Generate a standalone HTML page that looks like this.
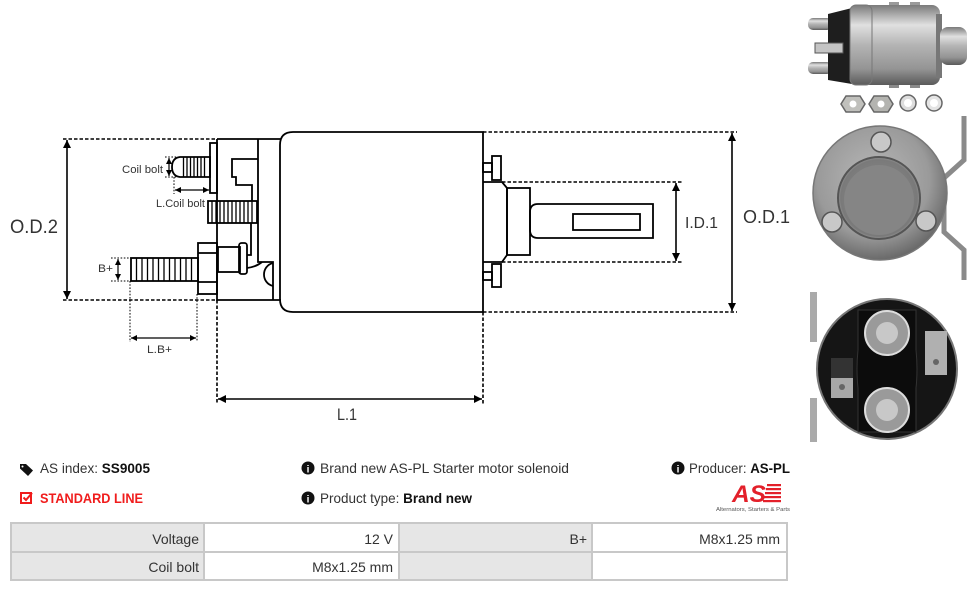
<!DOCTYPE html>
<html><head><meta charset="utf-8"><style>
html,body{margin:0;padding:0;background:#fff;width:976px;height:591px;overflow:hidden}
svg{display:block}
</style></head><body>
<svg width="976" height="591" viewBox="0 0 976 591" xmlns="http://www.w3.org/2000/svg">
<defs>
<marker id="ah" viewBox="0 0 10 10" refX="10" refY="5" markerWidth="9" markerHeight="8" markerUnits="userSpaceOnUse" orient="auto-start-reverse"><path d="M0,0 L10,5 L0,10 z" fill="#000"/></marker>
<marker id="as" viewBox="0 0 10 10" refX="10" refY="5" markerWidth="6" markerHeight="6" markerUnits="userSpaceOnUse" orient="auto-start-reverse"><path d="M0,0 L10,5 L0,10 z" fill="#000"/></marker>
<linearGradient id="met" x1="0" y1="0" x2="0" y2="1">
<stop offset="0" stop-color="#7a7a7a"/><stop offset="0.25" stop-color="#e0e0e0"/><stop offset="0.5" stop-color="#b4b4b4"/><stop offset="0.8" stop-color="#949494"/><stop offset="1" stop-color="#5a5a5a"/></linearGradient>
<radialGradient id="disc" cx="0.45" cy="0.4" r="0.6"><stop offset="0" stop-color="#b8b8b8"/><stop offset="0.7" stop-color="#9a9a9a"/><stop offset="1" stop-color="#6a6a6a"/></radialGradient>
<radialGradient id="cup" cx="0.5" cy="0.5" r="0.55"><stop offset="0" stop-color="#8a8a8a"/><stop offset="0.85" stop-color="#7a7a7a"/><stop offset="1" stop-color="#c0c0c0"/></radialGradient>
</defs>

<!-- ========== TECH DRAWING ========== -->
<g fill="none" stroke="#000" stroke-width="1.8">
<path d="M293,132 H483 V312 H293 Q280,312 280,299 V145 Q280,132 293,132 Z"/>
<path d="M217,139 H281 M217,139 V300 H281"/>
<path d="M258,139 V262 H273 V300"/>
<path d="M273,263 C261,266 261,283 273,286"/>
<path d="M247,268 Q256,267 262,262"/>
<path d="M258,159 H232 V177 H236 V185 H252 V201"/>
<path d="M251,223 V255 H247"/>
<path d="M180,157 H210 V177 H180 Q172,176 172,167 Q172,158 180,157 Z"/>
<rect x="210" y="143" width="7" height="50"/>
<rect x="208" y="201" width="49" height="22"/>
<rect x="131" y="258" width="67" height="23"/>
<rect x="198" y="243" width="19" height="51"/>
<path d="M198,253 H217 M198,282 H217"/>
<rect x="218" y="247" width="22" height="25"/>
<rect x="239" y="243" width="8" height="31" rx="2.5"/>
<rect x="483" y="163" width="9" height="9"/>
<rect x="492" y="156" width="9" height="24"/>
<rect x="483" y="272" width="9" height="8"/>
<rect x="492" y="264" width="9" height="23"/>
<path d="M483,182 H502 L507,188 V255 L502,262 H483"/>
<rect x="507" y="188" width="23" height="67"/>
<path d="M653,204 H538 Q530,204 530,212 V230 Q530,238 538,238 H653 Z"/>
<rect x="573" y="214" width="67" height="16"/>
</g>
<g stroke="#000" stroke-width="1.3" fill="none">
<path d="M183.5,157V177 M187,157V177 M190.5,157V177 M194,157V177 M197.5,157V177 M201,157V177 M204.5,157V177"/>
<path d="M212,201V223 M216,201V223 M220,201V223 M224,201V223 M228,201V223 M232,201V223 M236,201V223 M240,201V223 M244,201V223 M248,201V223 M252,201V223"/>
<path d="M136.5,258V281 M142,258V281 M147.5,258V281 M153,258V281 M158.5,258V281 M164,258V281 M169.5,258V281 M175,258V281 M180.5,258V281 M186,258V281 M191.5,258V281"/>
</g>
<g stroke="#000" stroke-width="1.6" stroke-dasharray="3.5,2" fill="none">
<path d="M63,139 H217 M63,300 H217"/>
<path d="M483,132 H737 M483,312 H737"/>
<path d="M502,182 H682 M502,262 H682"/>
<path d="M217,300 V404 M483,312 V404"/>
</g>
<g stroke="#000" stroke-width="1" stroke-dasharray="1.6,1.6" fill="none">
<path d="M165,157 H180 M165,177 H180"/>
<path d="M174,177 V194"/>
<path d="M111,258 H131 M111,281 H131"/>
<path d="M130,281 V342 M197,294 V342"/>
</g>
<g stroke="#000" stroke-width="1.6">
<line x1="67" y1="140" x2="67" y2="299" marker-start="url(#ah)" marker-end="url(#ah)"/>
<line x1="732" y1="133" x2="732" y2="311" marker-start="url(#ah)" marker-end="url(#ah)"/>
<line x1="676" y1="183" x2="676" y2="261" marker-start="url(#ah)" marker-end="url(#ah)"/>
<line x1="218" y1="399" x2="482" y2="399" marker-start="url(#ah)" marker-end="url(#ah)"/>
</g>
<g stroke="#000" stroke-width="1.2">
<line x1="169" y1="158" x2="169" y2="176" marker-start="url(#as)" marker-end="url(#as)"/>
<line x1="175" y1="190" x2="209" y2="190" marker-start="url(#as)" marker-end="url(#as)"/>
<line x1="118" y1="259" x2="118" y2="280" marker-start="url(#as)" marker-end="url(#as)"/>
<line x1="131" y1="338" x2="196" y2="338" marker-start="url(#as)" marker-end="url(#as)"/>
</g>
<g font-family="'Liberation Sans', sans-serif" fill="#333">
<text x="10" y="233" font-size="19" textLength="48" lengthAdjust="spacingAndGlyphs">O.D.2</text>
<text x="743" y="223" font-size="18" textLength="47" lengthAdjust="spacingAndGlyphs">O.D.1</text>
<text x="685" y="228" font-size="16" textLength="33" lengthAdjust="spacingAndGlyphs">I.D.1</text>
<text x="337" y="420" font-size="17" textLength="20" lengthAdjust="spacingAndGlyphs">L.1</text>
<text x="122" y="173" font-size="11" textLength="41" lengthAdjust="spacingAndGlyphs">Coil bolt</text>
<text x="156" y="207" font-size="11" textLength="49" lengthAdjust="spacingAndGlyphs">L.Coil bolt</text>
<text x="98" y="272" font-size="11" textLength="15" lengthAdjust="spacingAndGlyphs">B+</text>
<text x="147" y="353" font-size="11" textLength="25" lengthAdjust="spacingAndGlyphs">L.B+</text>
</g>

<!-- ========== PHOTOS ========== -->
<g>
<rect x="889" y="2" width="10" height="10" fill="#9a9a9a"/>
<rect x="910" y="2" width="10" height="10" fill="#9a9a9a"/>
<rect x="889" y="80" width="10" height="8" fill="#8a8a8a"/>
<rect x="910" y="80" width="10" height="8" fill="#8a8a8a"/>
<rect x="808" y="18" width="24" height="12" rx="5" fill="url(#met)"/>
<rect x="808" y="62" width="24" height="12" rx="5" fill="url(#met)"/>
<path d="M828,14 L852,8 V84 L828,80 Z" fill="#1e1e1e"/>
<rect x="815" y="43" width="28" height="10" fill="#c4c4c4" stroke="#555" stroke-width="1"/>
<rect x="850" y="5" width="90" height="80" rx="8" fill="url(#met)"/>
<rect x="850" y="5" width="22" height="80" rx="6" fill="url(#met)" stroke="#777" stroke-width="1"/>
<rect x="936" y="14" width="6" height="64" fill="#777"/>
<rect x="940" y="27" width="27" height="38" rx="8" fill="url(#met)"/>
<g stroke="#666" stroke-width="1.5">
<polygon points="846,96 860,96 865,104 860,112 846,112 841,104" fill="#c0c0bc"/>
<polygon points="874,96 888,96 893,104 888,112 874,112 869,104" fill="#b4b4b0"/>
<circle cx="908" cy="103" r="8" fill="#ddd"/>
<circle cx="934" cy="103" r="8" fill="#e4e4e4"/>
</g>
<circle cx="853" cy="104" r="3.5" fill="#fff"/>
<circle cx="881" cy="104" r="3.5" fill="#fff"/>
<circle cx="908" cy="103" r="4" fill="#fff"/>
<circle cx="934" cy="103" r="4" fill="#fff"/>
</g>
<g>
<polyline points="964,116 964,160 944,178 944,232 964,250 964,280" fill="none" stroke="#8a8a8a" stroke-width="5"/>
<circle cx="880" cy="193" r="67" fill="url(#disc)" stroke="#777" stroke-width="1.5"/>
<circle cx="879" cy="198" r="41" fill="url(#cup)" stroke="#555" stroke-width="2"/>
<circle cx="879" cy="200" r="35" fill="#858585"/>
<circle cx="881" cy="142" r="10" fill="#c8c8c8" stroke="#555" stroke-width="1.5"/>
<circle cx="832" cy="222" r="10" fill="#c8c8c8" stroke="#555" stroke-width="1.5"/>
<circle cx="926" cy="221" r="10" fill="#c8c8c8" stroke="#555" stroke-width="1.5"/>
</g>
<g>
<rect x="810" y="292" width="7" height="50" fill="#aaa"/>
<rect x="810" y="398" width="7" height="44" fill="#aaa"/>
<circle cx="887" cy="369" r="70" fill="#151515" stroke="#777" stroke-width="2"/>
<path d="M858,310 H916 V350 Q918,369 916,388 V432 H858 V388 Q856,369 858,350 Z" fill="#0c0c0c" stroke="#333" stroke-width="1"/>
<circle cx="887" cy="333" r="22" fill="#9a9a9a" stroke="#ddd" stroke-width="2"/>
<circle cx="887" cy="333" r="11" fill="#c8c8c8"/>
<circle cx="887" cy="410" r="22" fill="#9a9a9a" stroke="#ddd" stroke-width="2"/>
<circle cx="887" cy="410" r="11" fill="#c8c8c8"/>
<rect x="831" y="358" width="22" height="40" fill="#a8a8a8"/>
<rect x="831" y="358" width="22" height="20" fill="#333"/>
<circle cx="842" cy="387" r="3" fill="#666"/>
<rect x="925" y="331" width="22" height="44" fill="#b0b0b0"/>
<circle cx="936" cy="362" r="3" fill="#666"/>
</g>

<!-- ========== INFO ========== -->
<g font-family="'Liberation Sans', sans-serif" font-size="14" fill="#333">
<path d="M20,464 H26 L33,470.5 L28,476 L20,468.5 Z" fill="#111"/>
<circle cx="22.5" cy="466.5" r="1" fill="#fff"/>
<text x="40" y="473" textLength="110" lengthAdjust="spacingAndGlyphs">AS index: <tspan font-weight="bold" fill="#111">SS9005</tspan></text>
<rect x="21" y="493" width="10" height="10" fill="none" stroke="#f01c1c" stroke-width="2"/>
<path d="M23.5,497.5 L26,500 L32,493" fill="none" stroke="#f01c1c" stroke-width="2"/>
<text x="40" y="503" font-weight="bold" fill="#f01c1c" textLength="103" lengthAdjust="spacingAndGlyphs">STANDARD LINE</text>
<circle cx="308" cy="468" r="6.5" fill="#111"/>
<text x="308" y="472.5" font-size="10" font-weight="bold" fill="#fff" text-anchor="middle">i</text>
<text x="320" y="473" textLength="249" lengthAdjust="spacingAndGlyphs">Brand new AS-PL Starter motor solenoid</text>
<circle cx="308" cy="498" r="6.5" fill="#111"/>
<text x="308" y="502.5" font-size="10" font-weight="bold" fill="#fff" text-anchor="middle">i</text>
<text x="320" y="503" textLength="152" lengthAdjust="spacingAndGlyphs">Product type: <tspan font-weight="bold" fill="#111">Brand new</tspan></text>
<circle cx="678" cy="468" r="6.5" fill="#111"/>
<text x="678" y="472.5" font-size="10" font-weight="bold" fill="#fff" text-anchor="middle">i</text>
<text x="689" y="473" textLength="101" lengthAdjust="spacingAndGlyphs">Producer: <tspan font-weight="bold" fill="#111">AS-PL</tspan></text>
</g>
<g>
<rect x="767" y="484" width="14" height="2.2" fill="#e3202a"/>
<rect x="766" y="488" width="15" height="2.2" fill="#e3202a"/>
<rect x="765" y="492" width="16" height="2.2" fill="#e3202a"/>
<rect x="764" y="496" width="17" height="2.2" fill="#e3202a"/>
<rect x="763" y="500" width="18" height="2.2" fill="#e3202a"/>
<text x="732" y="502" font-family="'Liberation Sans', sans-serif" font-size="24" font-weight="bold" font-style="italic" fill="#e3202a" textLength="34" lengthAdjust="spacingAndGlyphs">AS</text>
<text x="716" y="511" font-family="'Liberation Sans', sans-serif" font-size="5" fill="#555" textLength="74" lengthAdjust="spacingAndGlyphs">Alternators, Starters &amp; Parts</text>
</g>

<!-- ========== TABLE ========== -->
<g>
<rect x="11" y="523" width="776" height="57" fill="#e6e6e6" stroke="#c8c8c8" stroke-width="2"/>
<rect x="205" y="524" width="193" height="27" fill="#fff"/>
<rect x="205" y="553" width="193" height="26" fill="#fff"/>
<rect x="593" y="524" width="193" height="27" fill="#fff"/>
<rect x="593" y="553" width="193" height="26" fill="#fff"/>
<g stroke="#c8c8c8" stroke-width="2">
<line x1="11" y1="552" x2="787" y2="552"/>
<line x1="204" y1="523" x2="204" y2="580"/>
<line x1="399" y1="523" x2="399" y2="580"/>
<line x1="592" y1="523" x2="592" y2="580"/>
</g>
<g font-family="'Liberation Sans', sans-serif" font-size="14" fill="#333" text-anchor="end">
<text x="199" y="544">Voltage</text>
<text x="393" y="544">12 V</text>
<text x="587" y="544">B+</text>
<text x="780" y="544">M8x1.25 mm</text>
<text x="199" y="572">Coil bolt</text>
<text x="393" y="572">M8x1.25 mm</text>
</g>
</g>
</svg>
</body></html>
